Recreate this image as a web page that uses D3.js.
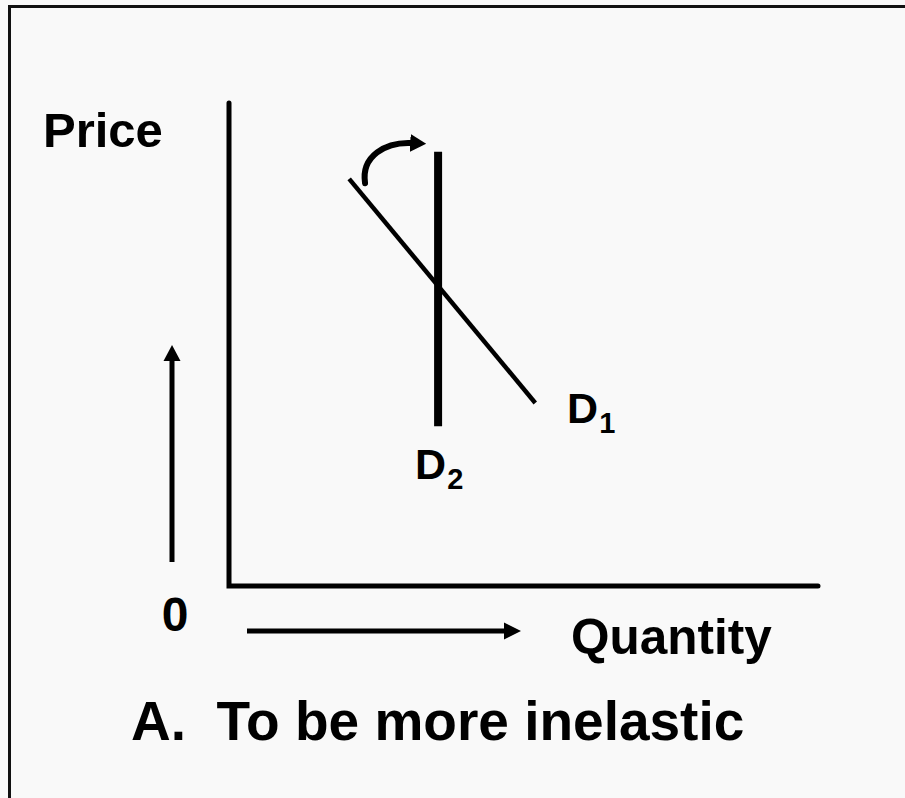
<!DOCTYPE html>
<html><head><meta charset="utf-8">
<script src="https://cdn.jsdelivr.net/npm/d3@7"></script>
<style>html,body{margin:0;padding:0;background:#f9f9f9;}svg{display:block;}text{white-space:pre;}</style>
</head><body>
<script>
// Data (conceptual units: quantity 0–100, price 0–100)
const quantityDomain = [0, 100];
const priceDomain = [0, 100];
const demandD1 = [{q: 20.4, p: 84.3}, {q: 52.0, p: 37.9}];
const demandD2 = [{q: 35.5, p: 89.9}, {q: 35.5, p: 33.1}];
const shiftArrow = [{q: 23.1, p: 83.4}, {q: 22.4, p: 89.0}, {q: 26.6, p: 92.0}, {q: 32.8, p: 91.7}];
const labels = {price: "Price", quantity: "Quantity", zero: "0", title: "A.  To be more inelastic"};
const curveLabels = [{name: "D", sub: "1", q: 57.4, p: 33.7}, {name: "D", sub: "2", q: 31.6, p: 22.1}];

const W = 905, H = 798;
const svg = d3.select("body").append("svg").attr("width", W).attr("height", H);
svg.append("rect").attr("width", W).attr("height", H).attr("fill", "#f9f9f9");
// frame (top and left edges visible)
svg.append("rect").attr("x", 9.5).attr("y", 6.5).attr("width", 1000).attr("height", 1000)
  .attr("fill", "none").attr("stroke", "#111").attr("stroke-width", 3);

const x = d3.scaleLinear().domain(quantityDomain).range([229, 818]);
const y = d3.scaleLinear().domain(priceDomain).range([586, 103]);

const defs = svg.append("defs");
defs.append("marker").attr("id", "head").attr("markerUnits", "userSpaceOnUse")
  .attr("viewBox", "0 0 16 18").attr("refX", 2).attr("refY", 9)
  .attr("markerWidth", 16).attr("markerHeight", 18).attr("orient", "auto")
  .append("path").attr("d", "M0,0 L16,9 L0,18 Z").attr("fill", "#000");

// axes (plain L shape)
svg.append("path")
  .attr("d", `M${x(0)},${y(100)} L${x(0)},${y(0)} L${x(100)},${y(0)}`)
  .attr("fill", "none").attr("stroke", "#000").attr("stroke-width", 5)
  .attr("stroke-linecap", "round").attr("stroke-linejoin", "miter");

const line = d3.line().x(d => x(d.q)).y(d => y(d.p));
svg.append("path").attr("d", line(demandD1)).attr("fill", "none")
  .attr("stroke", "#000").attr("stroke-width", 4.5);
svg.append("path").attr("d", line(demandD2)).attr("fill", "none")
  .attr("stroke", "#000").attr("stroke-width", 8);

// curved shift arrow
const c = shiftArrow.map(d => [x(d.q), y(d.p)]);
svg.append("path")
  .attr("d", `M${c[0][0]},${c[0][1]} C${c[1][0]},${c[1][1]} ${c[2][0]},${c[2][1]} ${c[3][0]-10},${c[3][1]}`)
  .attr("fill", "none").attr("stroke", "#000").attr("stroke-width", 6)
  .attr("stroke-linecap", "round").attr("marker-end", "url(#head)");

// direction arrows
svg.append("line").attr("x1", 172).attr("y1", 562).attr("x2", 172).attr("y2", 360)
  .attr("stroke", "#000").attr("stroke-width", 5);
svg.append("path").attr("d", "M172,345 L163.5,361 L180.5,361 Z").attr("fill", "#000");
svg.append("line").attr("x1", 247).attr("y1", 631).attr("x2", 506).attr("y2", 631)
  .attr("stroke", "#000").attr("stroke-width", 5);
svg.append("path").attr("d", "M521,631 L504,622.5 L504,639.5 Z").attr("fill", "#000");

const font = "'Liberation Sans', Arial, sans-serif";
const txt = (t, xx, yy, size, anchor) => svg.append("text").attr("x", xx).attr("y", yy)
  .attr("xml:space", "preserve")
  .attr("font-family", font).attr("font-weight", "bold").attr("font-size", size)
  .attr("text-anchor", anchor || "start").attr("fill", "#000").text(t);

txt(labels.price, 43, 147, 49);
txt(labels.zero, 175, 631, 48, "middle");
txt(labels.quantity, 571, 654, 49.5);
txt(labels.title, 131, 740, 55);

curveLabels.forEach(d => {
  const t = svg.append("text").attr("x", x(d.q)).attr("y", y(d.p))
    .attr("font-family", font).attr("font-weight", "bold").attr("font-size", 43).attr("fill", "#000");
  t.append("tspan").text(d.name);
  t.append("tspan").attr("font-size", 29).attr("dy", 10).attr("dx", 1).text(d.sub);
});
</script>
</body></html>
